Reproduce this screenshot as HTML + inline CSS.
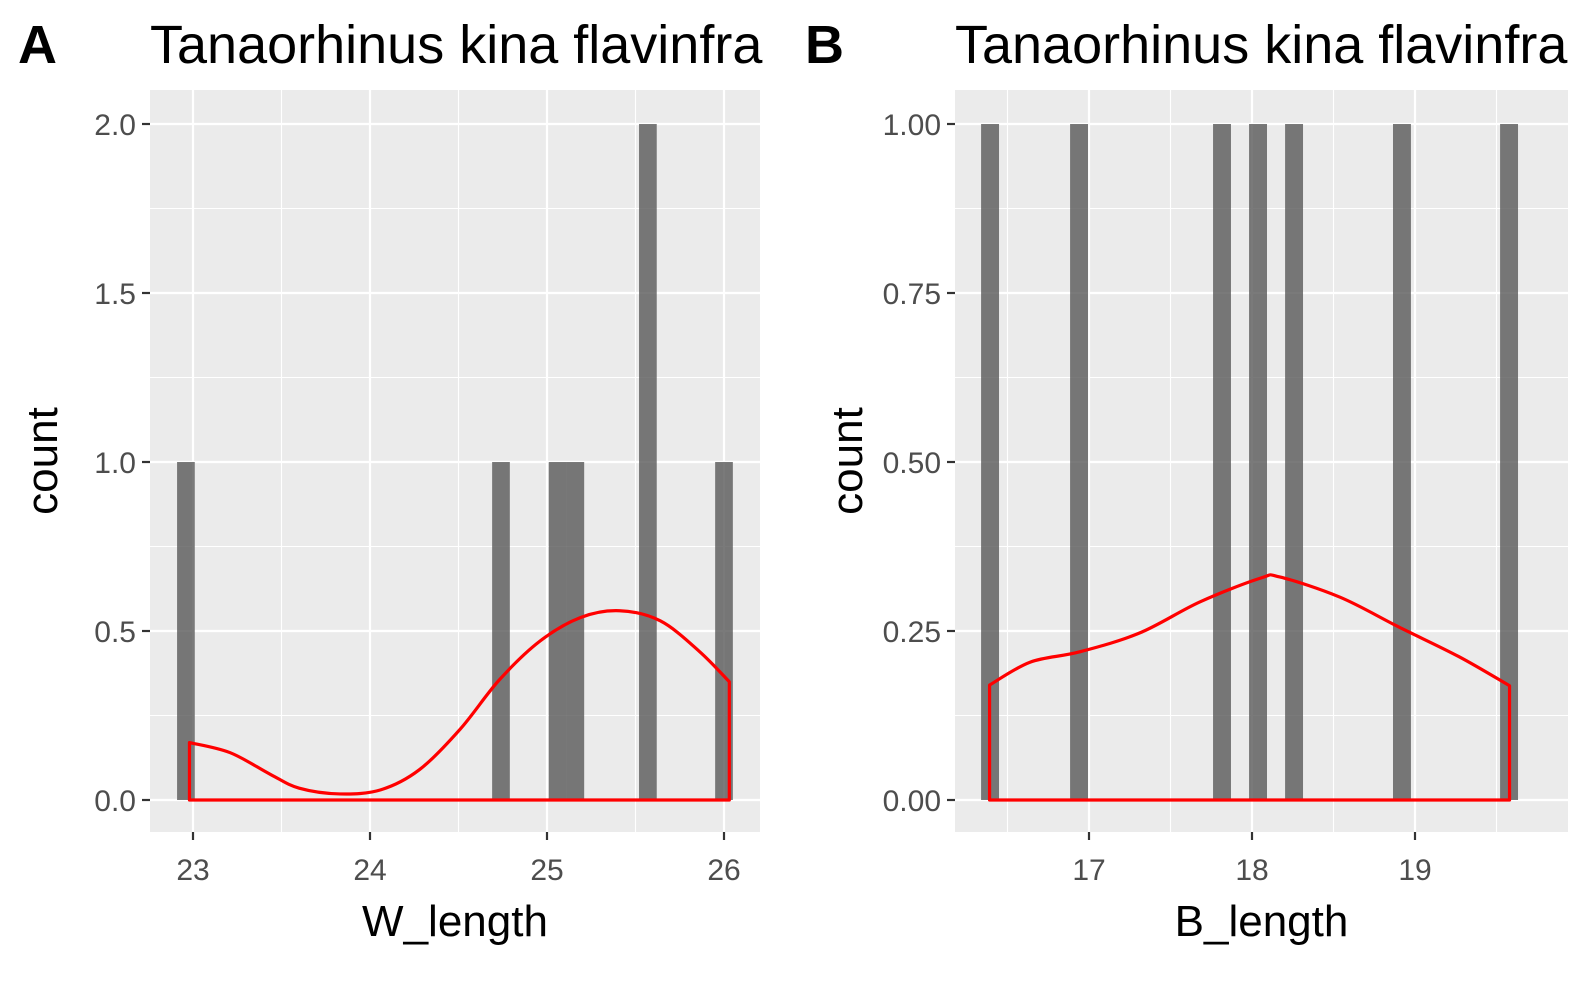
<!DOCTYPE html>
<html><head><meta charset="utf-8"><style>
body{margin:0;background:#fff}
svg{display:block;font-family:"Liberation Sans",Arial,sans-serif}
</style></head><body>
<svg id="chart" width="1593" height="984" xmlns="http://www.w3.org/2000/svg"></svg>
<script>
// Panel A data
const aBarCenters=[22.96,24.74,25.06,25.16,25.57,26.0];
const aBarCounts=[1,1,1,1,2,1];
const aDensX=[22.98,23.21,23.44,23.6,23.83,24.06,24.28,24.51,24.73,24.96,25.19,25.41,25.64,25.86,26.03];
const aDensY=[0.17,0.14,0.075,0.035,0.018,0.03,0.09,0.21,0.355,0.47,0.54,0.56,0.53,0.44,0.35];
const aXTicks=[23,24,25,26];
const aYTicks=["0.0","0.5","1.0","1.5","2.0"];
// Panel B data
const bBarCenters=[16.393,16.939,17.816,18.037,18.258,18.92,19.577];
const bBarCounts=[1,1,1,1,1,1,1];
const bDensX=[16.39,16.64,16.94,17.31,17.68,18.05,18.17,18.54,18.9,19.27,19.58];
const bDensY=[0.17,0.204,0.219,0.247,0.293,0.328,0.33,0.3,0.256,0.212,0.169];
const bXTicks=[17,18,19];
const bYTicks=["0.00","0.25","0.50","0.75","1.00"];

const NS="http://www.w3.org/2000/svg";
const svg=document.getElementById('chart');
function mk(tag,attrs,parent,text){const e=document.createElementNS(NS,tag);for(const k in attrs)e.setAttribute(k,attrs[k]);if(text!==undefined)e.textContent=text;(parent||svg).appendChild(e);return e;}

function panel(p){
  const g=mk('g',{});
  
  
  const sx=v=>p.x0px+(v-p.x0)*p.kx;
  const sy=v=>p.y0px-v*p.ky;
  const bg=mk('rect',{x:p.L,y:90,width:p.R-p.L,height:742,fill:'#ebebeb'},g);
  
  
  for(let v=p.xmin;v<=p.xmax+1e-9;v+=p.xstep/2){const x=sx(v);if(x<p.L||x>p.R)continue;const major=Math.abs(v/p.xstep-Math.round(v/p.xstep))<1e-6;
    mk('line',{x1:x,x2:x,y1:90,y2:832,stroke:'#fff','stroke-width':major?2.2:1.1},g);}
  for(let i=0;i<p.yTicks.length*2-1;i++){const v=i*p.ystep/2;const y=sy(v);const major=i%2==0;
    mk('line',{x1:p.L,x2:p.R,y1:y,y2:y,stroke:'#fff','stroke-width':major?2.2:1.1},g);}
  p.bars.forEach((c,i)=>{const x=sx(c-p.bw/2);const w=p.bw*p.kx;const h=p.counts[i]*p.ky;
    const r=mk('rect',{x:x,y:sy(p.counts[i]),width:w,height:h,fill:'#595959','fill-opacity':0.8},g);
    
    });
  // density (smoothed with Catmull-Rom)
  const pts=p.dx.map((v,i)=>[sx(v),sy(p.dy[i])]);
  let d='M'+pts[0][0]+','+sy(0)+' L'+pts[0][0]+','+pts[0][1];
  for(let i=0;i<pts.length-1;i++){
    const p0=pts[Math.max(0,i-1)],p1=pts[i],p2=pts[i+1],p3=pts[Math.min(pts.length-1,i+2)];
    const c1=[p1[0]+(p2[0]-p0[0])/6,p1[1]+(p2[1]-p0[1])/6];
    const c2=[p2[0]-(p3[0]-p1[0])/6,p2[1]-(p3[1]-p1[1])/6];
    d+=' C'+c1[0]+','+c1[1]+' '+c2[0]+','+c2[1]+' '+p2[0]+','+p2[1];
  }
  d+=' L'+pts[pts.length-1][0]+','+sy(0)+' Z';
  const path=mk('path',{d:d,fill:'none',stroke:'#ff0000','stroke-width':3.2,'stroke-linejoin':'round'},g);
  
  
  p.yTicks.forEach((t,i)=>{const y=sy(i*p.ystep);
    mk('line',{x1:p.L-8,x2:p.L,y1:y,y2:y,stroke:'#333','stroke-width':2.2},g);
    const tx=mk('text',{x:p.L-14,y:y+11,'text-anchor':'end','font-size':30,fill:'#4d4d4d'},g,t);
    
    });
  p.xTicks.forEach(t=>{const x=sx(t);
    mk('line',{x1:x,x2:x,y1:832,y2:840,stroke:'#333','stroke-width':2.2},g);
    const tx=mk('text',{x:x,y:880,'text-anchor':'middle','font-size':30,fill:'#4d4d4d'},g,t);
    
    });
  const xt=mk('text',{x:(p.L+p.R)/2,y:936,'text-anchor':'middle','font-size':44,fill:'#000'},g,p.xlabel);
  
  
  const yt=mk('text',{transform:'translate('+(p.L-93)+',461) rotate(-90)','text-anchor':'middle','font-size':44,fill:'#000'},g,'count');
  
  
  const tl=mk('text',{x:p.L,y:63,'font-size':54,fill:'#000'},g,'Tanaorhinus kina flavinfra');
  
  
  const tag=mk('text',{x:p.tagX,y:63,'font-size':54,'font-weight':'bold',fill:'#000'},g,p.id);
  
  
}
panel({id:'A',L:150,R:760,x0:23,x0px:193,kx:177,y0px:800,ky:338,ystep:0.5,xstep:1,xmin:22,xmax:27,bw:0.1,
  bars:aBarCenters,counts:aBarCounts,dx:aDensX,dy:aDensY,xTicks:aXTicks,yTicks:aYTicks,xlabel:'W_length',tagX:18});
panel({id:'B',L:955,R:1568,x0:17,x0px:1089,kx:163,y0px:800,ky:676,ystep:0.25,xstep:1,xmin:16,xmax:20,bw:0.11,
  bars:bBarCenters,counts:bBarCounts,dx:bDensX,dy:bDensY,xTicks:bXTicks,yTicks:bYTicks,xlabel:'B_length',tagX:805});
</script>
</body></html>
